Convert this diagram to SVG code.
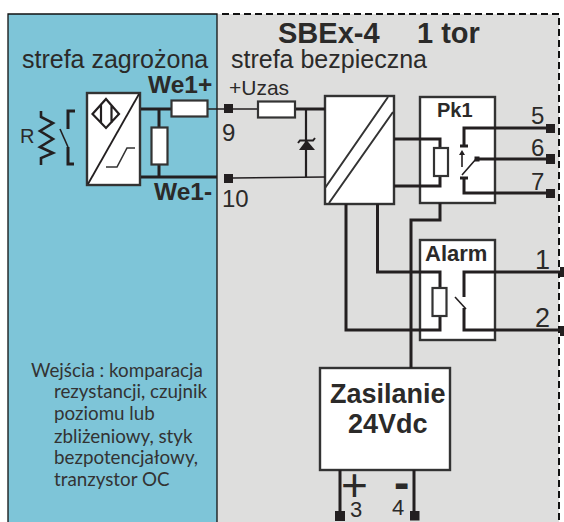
<svg xmlns="http://www.w3.org/2000/svg" width="564" height="522" viewBox="0 0 564 522">
<style>
text{font-family:"Liberation Sans",Arial,sans-serif;fill:#2b2a29}
.b{font-weight:bold}
.n{font-family:Lato,"Liberation Sans",sans-serif;font-size:18.800px;fill:#333}
.w{fill:none;stroke:#231f20;stroke-width:3}
.t{fill:none;stroke:#231f20;stroke-width:1.6}
.box{fill:#fff;stroke:#333;stroke-width:2.4}
.el{fill:#fff;stroke:#333;stroke-width:2.2}
.s{fill:#231f20}
</style>
<g id="zones">
<rect x="8" y="14" width="209" height="508" fill="#7ec5d8"/>
<rect x="217" y="14" width="342" height="508" fill="#dededd"/>
<path d="M8 522V14H217V522" fill="none" stroke="#111" stroke-width="1.300"/>
<path d="M222 14H559V522" fill="none" stroke="#111" stroke-width="2" stroke-dasharray="7 4"/>
</g>
<g id="title">
<text class="b" x="278" y="43" font-size="29">SBEx-4</text>
<text class="b" x="417" y="43" font-size="29">1 tor</text>
</g>
<g id="zone-labels">
<text x="22" y="68" font-size="25">strefa zagrożona</text>
<text x="231" y="68" font-size="25">strefa bezpieczna</text>
<text x="229" y="95" font-size="21">+Uzas</text>
<text class="b" x="148" y="93" font-size="24.500">We1+</text>
<text class="b" x="154" y="200" font-size="24.500">We1-</text>
</g>
<g id="reed-sensor">
<text x="20" y="143" font-size="20">R</text>
<path d="M41 111V117L53 123L40 131L53 139L40 147L53 153L41 158V165" fill="none" stroke="#231f20" stroke-width="2.600"/>
<path class="w" d="M75 111H68V129M74 164H68V147"/>
<path class="t" d="M60 129L68 147"/>
</g>
<g id="sensor-block">
<rect class="box" x="87" y="93" width="53" height="92"/>
<path d="M139 94L88 184" fill="none" stroke="#231f20" stroke-width="1.800"/>
<path d="M106 99L119 114L106 128L92.500 114ZM101 105V123M111.500 105V123" fill="none" stroke="#231f20" stroke-width="2.200"/>
<path d="M106 167H117L127 148H135" fill="none" stroke="#333" stroke-width="1.600"/>
</g>
<g id="converter">
<rect class="box" x="325" y="96" width="69" height="108"/>
<path d="M388 97L325 188M393 112L329 203" fill="none" stroke="#333" stroke-width="2"/>
</g>
<g id="pk1">
<rect class="box" x="420" y="97" width="75" height="106"/>
<text class="b" x="437" y="117" font-size="20">Pk1</text>
<path class="w" d="M460 146H468M460 178H468"/>
<path d="M462 167V153M462 175L476 159" fill="none" stroke="#231f20" stroke-width="1.600"/>
<path class="s" d="M462 150L465 155H459Z"/>
<rect class="s" x="474.500" y="156.500" width="5" height="5"/>
<text x="531" y="124" font-size="24">5</text>
<text x="531" y="156" font-size="24">6</text>
<text x="531" y="190" font-size="24">7</text>
</g>
<g id="alarm">
<rect class="box" x="420" y="240" width="75" height="100"/>
<text class="b" x="425" y="261" font-size="22">Alarm</text>
<path d="M455 297L466 309" fill="none" stroke="#231f20" stroke-width="1.600"/>
<text x="535" y="269" font-size="27">1</text>
<text x="535" y="327" font-size="27">2</text>
</g>
<g id="supply">
<rect class="box" x="320" y="368" width="130" height="102"/>
<text class="b" x="330" y="403" font-size="27">Zasilanie</text>
<text class="b" x="348" y="433" font-size="27">24Vdc</text>
<text x="341" y="501" font-size="46">+</text>
<text class="b" x="394" y="498" font-size="46">-</text>
<text x="350" y="517" font-size="22">3</text>
<text x="392" y="515" font-size="22">4</text>
</g>
<g id="connectors">
<path class="w" d="M141 109H171M159 109V127M159 165V177M141 177H217"/>
<path class="t" d="M208 109H224M233 109H258M233 178L325 177"/>
<path class="w" d="M295 109H325"/>
<path d="M306 109V177" fill="none" stroke="#231f20" stroke-width="2.200"/>
<path class="w" d="M394 139H440V148M440 176V186H394"/>
<path class="w" d="M346 204V330H440V316M377.500 204V272H440V288M440 203V220H411V368"/>
<path class="w" d="M549 128H464V145M549 159H477M549 193H464V178"/>
<path class="w" d="M562 272H464V297M562 330H464V308"/>
<path class="w" d="M340 470V513M414 470V513"/>
</g>
<g id="resistors">
<rect class="el" x="171.500" y="100.500" width="36" height="16"/>
<rect class="el" x="151.500" y="127.500" width="16" height="37"/>
<rect class="el" x="258" y="101.500" width="37" height="16"/>
</g>
<g id="diode">
<path class="s" d="M299 150H315L306.500 140Z"/>
<path d="M298 143L300 140.500H313L315 138" fill="none" stroke="#231f20" stroke-width="2"/>
</g>
<g id="coils">
<rect class="el" x="434" y="148" width="14" height="28"/>
<rect class="el" x="432.500" y="288" width="14" height="28"/>
</g>
<g id="terminals">
<rect class="s" x="224" y="104" width="9" height="9"/>
<rect class="s" x="224" y="174" width="9" height="9"/>
<text x="222" y="141" font-size="24">9</text>
<text x="222" y="207" font-size="24">10</text>
<rect class="s" x="546" y="124" width="9" height="9"/>
<rect class="s" x="546" y="154" width="9" height="10"/>
<rect class="s" x="546" y="189" width="9" height="9"/>
<rect class="s" x="560" y="267" width="4" height="10"/>
<rect class="s" x="560" y="326" width="4" height="10"/>
<rect class="s" x="335" y="511" width="10" height="10"/>
<rect class="s" x="410" y="511" width="9.500" height="9.500"/>
</g>
<g id="note">
<text class="n" x="31" y="377">Wejścia : komparacja</text>
<text class="n" x="54" y="398">rezystancji, czujnik</text>
<text class="n" x="54" y="420">poziomu lub</text>
<text class="n" x="54" y="443">zbliżeniowy, styk</text>
<text class="n" x="54" y="464">bezpotencjałowy,</text>
<text class="n" x="54" y="486">tranzystor OC</text>
</g>
</svg>
